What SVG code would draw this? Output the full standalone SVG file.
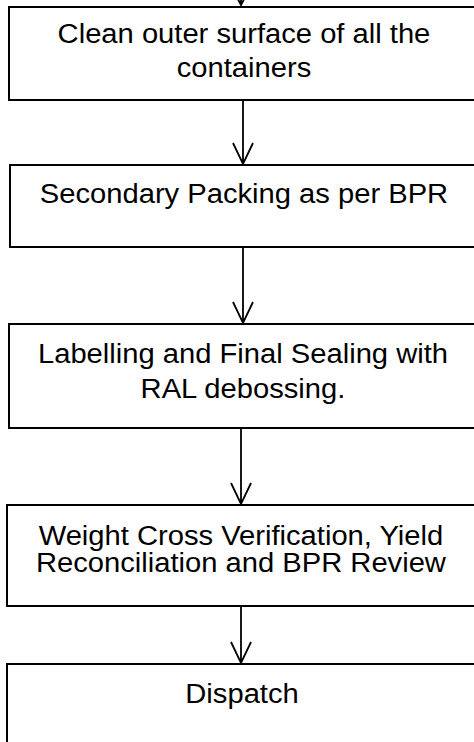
<svg xmlns="http://www.w3.org/2000/svg" width="474" height="742" viewBox="0 0 474 742">
  <style>
    .box { fill: #ffffff; stroke: #000000; stroke-width: 2; }
    .lbl { font-family: "Liberation Sans", Arial, sans-serif; font-size: 27px; fill: #000000; text-anchor: middle; }
    .wire { fill: none; stroke: #000000; stroke-width: 1.8; }
  </style>
  <rect x="0" y="0" width="474" height="742" fill="#ffffff"/>

  <g id="connectors">
    <!-- incoming arrow from the previous step (only its tip is in view) -->
    <path class="wire" d="M241,-20 V5 M231,-14 L241,5 L251,-14"/>
    <path class="wire" d="M243,100 V164 M233,143 L243,164 L253,143"/>
    <path class="wire" d="M243,247 V323 M233,302 L243,323 L253,302"/>
    <path class="wire" d="M241,428 V504 M231,483 L241,504 L251,483"/>
    <path class="wire" d="M241,606 V663 M231,642 L241,663 L251,642"/>
  </g>

  <g id="clean">
    <rect class="box" x="9" y="7" width="475" height="93"/>
    <g transform="scale(1.08,1)">
      <text class="lbl" x="225.9" y="43">Clean outer surface of all the</text>
      <text class="lbl" x="225.9" y="77">containers</text>
    </g>
  </g>

  <g id="secondary-packing">
    <rect class="box" x="10" y="165" width="475" height="82"/>
    <g transform="scale(1.08,1)">
      <text class="lbl" x="225.9" y="203">Secondary Packing as per BPR</text>
    </g>
  </g>

  <g id="labelling">
    <rect class="box" x="9" y="324" width="475" height="104"/>
    <g transform="scale(1.08,1)">
      <text class="lbl" x="225" y="363">Labelling and Final Sealing with</text>
      <text class="lbl" x="225" y="398">RAL debossing.</text>
    </g>
  </g>

  <g id="weight-check">
    <rect class="box" x="7" y="505" width="475" height="101"/>
    <g transform="scale(1.08,1)">
      <text class="lbl" x="223.1" y="545">Weight Cross Verification, Yield</text>
      <text class="lbl" x="223.1" y="572">Reconciliation and BPR Review</text>
    </g>
  </g>

  <g id="dispatch">
    <rect class="box" x="7" y="664" width="475" height="90"/>
    <g transform="scale(1.08,1)">
      <text class="lbl" x="224.1" y="703">Dispatch</text>
    </g>
  </g>
</svg>
